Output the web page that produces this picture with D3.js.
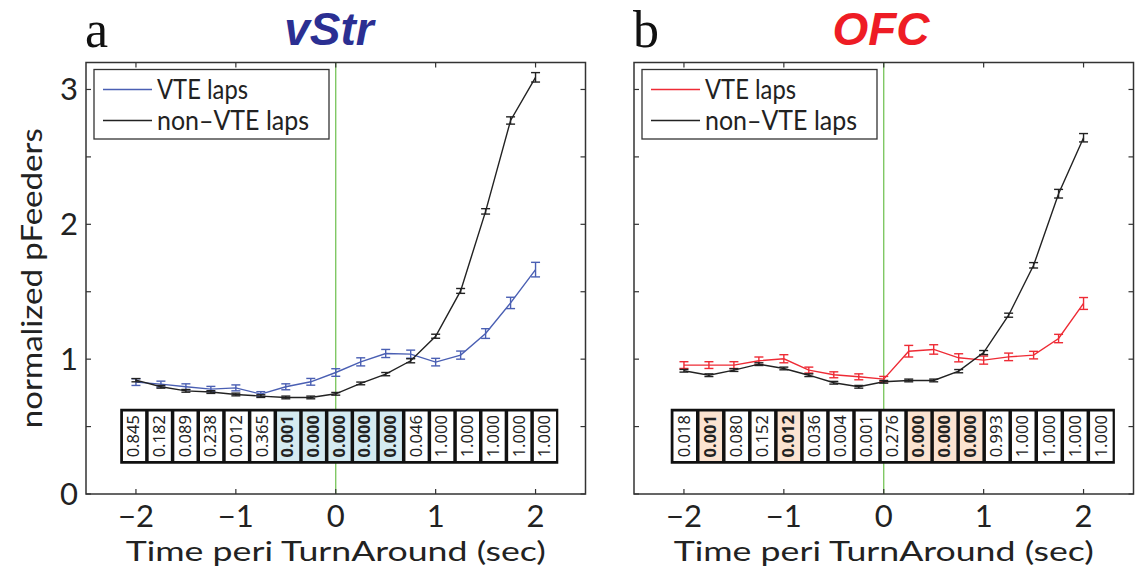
<!DOCTYPE html>
<html>
<head>
<meta charset="utf-8">
<script src="https://cdn.jsdelivr.net/npm/d3@7"></script>
<style>
  body { margin: 0; background: #fff; }
  svg text { font-family: Lato, "Noto Sans", sans-serif; }
</style>
</head>
<body>
<svg id="chart" width="1138" height="569"></svg>
<script>
// time points (sec, peri TurnAround)
const timePts = [-2, -1.75, -1.5, -1.25, -1, -0.75, -0.5, -0.25, 0, 0.25, 0.5, 0.75, 1, 1.25, 1.5, 1.75, 2];

// vStr panel
const vstrVTE     = [0.830, 0.815, 0.795, 0.778, 0.787, 0.741, 0.795, 0.832, 0.901, 0.980, 1.042, 1.037, 0.978, 1.030, 1.190, 1.417, 1.664];
const vstrVTEerr  = [0.025, 0.022, 0.022, 0.020, 0.022, 0.018, 0.022, 0.025, 0.028, 0.030, 0.030, 0.030, 0.028, 0.030, 0.036, 0.042, 0.054];
const vstrNon     = [0.844, 0.795, 0.765, 0.756, 0.738, 0.726, 0.716, 0.716, 0.743, 0.820, 0.889, 0.988, 1.170, 1.506, 2.096, 2.770, 3.090];
const vstrNonErr  = [0.012, 0.010, 0.010, 0.010, 0.010, 0.010, 0.010, 0.010, 0.010, 0.010, 0.012, 0.015, 0.015, 0.018, 0.020, 0.027, 0.035];
const vstrP       = ["0.845", "0.182", "0.089", "0.238", "0.012", "0.365", "0.001", "0.000", "0.000", "0.000", "0.000", "0.046", "1.000", "1.000", "1.000", "1.000", "1.000"];
const vstrSig     = [6, 7, 8, 9, 10];

// OFC panel
const ofcVTE      = [0.956, 0.956, 0.956, 0.988, 1.003, 0.919, 0.884, 0.869, 0.852, 1.059, 1.072, 1.010, 0.993, 1.017, 1.030, 1.153, 1.413];
const ofcVTEerr   = [0.025, 0.025, 0.025, 0.028, 0.030, 0.022, 0.022, 0.022, 0.020, 0.043, 0.035, 0.030, 0.030, 0.028, 0.028, 0.031, 0.044];
const ofcNon      = [0.914, 0.881, 0.919, 0.963, 0.931, 0.881, 0.825, 0.795, 0.832, 0.842, 0.842, 0.911, 1.049, 1.326, 1.696, 2.227, 2.642];
const ofcNonErr   = [0.010, 0.010, 0.010, 0.010, 0.010, 0.010, 0.010, 0.010, 0.010, 0.010, 0.010, 0.012, 0.015, 0.015, 0.020, 0.032, 0.031];
const ofcP        = ["0.018", "0.001", "0.080", "0.152", "0.012", "0.036", "0.004", "0.001", "0.276", "0.000", "0.000", "0.000", "0.993", "1.000", "1.000", "1.000", "1.000"];
const ofcSig      = [1, 4, 9, 10, 11];

const xTicks = [-2, -1, 0, 1, 2];
const yTicks = [0, 0.5, 1, 1.5, 2, 2.5, 3];
const yLabels = [0, 1, 2, 3];

const svg = d3.select("#chart");
const plotTop = 62.5, plotBottom = 494;

function drawPanel(cfg) {
  const x = d3.scaleLinear().domain([-2.5, 2.5]).range([cfg.left, cfg.left + 499.5]);
  const y = d3.scaleLinear().domain([0, 3.2]).range([plotBottom, plotTop]);
  const g = svg.append("g");

  // panel letter + title
  g.append("text")
    .attr("x", cfg.left - 1).attr("y", 47)
    .style("font-family", "'Liberation Serif', 'DejaVu Serif', serif")
    .style("font-size", "52px").attr("fill", "#111")
    .text(cfg.letter);
  g.append("text")
    .attr("x", cfg.titleX).attr("y", 45)
    .attr("text-anchor", "middle")
    .style("font-family", "'Liberation Sans', Arial, sans-serif")
    .style("font-size", "46px").style("font-weight", "bold").style("font-style", "italic")
    .attr("fill", cfg.titleColor)
    .text(cfg.title);

  // green line at turnaround
  g.append("line")
    .attr("x1", x(0)).attr("x2", x(0)).attr("y1", plotTop).attr("y2", plotBottom)
    .attr("stroke", "#6cbf4a").attr("stroke-width", 1.2);

  // inward ticks
  const tl = 5;
  xTicks.forEach(t => {
    g.append("line").attr("x1", x(t)).attr("x2", x(t)).attr("y1", plotBottom).attr("y2", plotBottom - tl)
      .attr("stroke", "#333").attr("stroke-width", 1.2);
    g.append("line").attr("x1", x(t)).attr("x2", x(t)).attr("y1", plotTop).attr("y2", plotTop + tl)
      .attr("stroke", "#333").attr("stroke-width", 1.2);
    g.append("text").attr("x", x(t)).attr("y", 527)
      .attr("text-anchor", "middle").style("font-size", "31px").attr("fill", "#222")
      .text(d3.format("")(t));
  });
  yTicks.forEach(t => {
    g.append("line").attr("x1", cfg.left).attr("x2", cfg.left + tl).attr("y1", y(t)).attr("y2", y(t))
      .attr("stroke", "#333").attr("stroke-width", 1.2);
    g.append("line").attr("x1", x(2.5)).attr("x2", x(2.5) - tl).attr("y1", y(t)).attr("y2", y(t))
      .attr("stroke", "#333").attr("stroke-width", 1.2);
  });
  if (cfg.showY) {
    yLabels.forEach(t => {
      g.append("text").attr("x", cfg.left - 8).attr("y", y(t) + 11)
        .attr("text-anchor", "end").style("font-size", "31px").attr("fill", "#222")
        .text(t);
    });
    g.append("text")
      .attr("transform", `translate(42,${(plotTop + plotBottom) / 2}) rotate(-90)`)
      .attr("text-anchor", "middle").style("font-size", "28px").attr("fill", "#222")
      .attr("textLength", 300).attr("lengthAdjust", "spacingAndGlyphs")
      .text("normalized pFeeders");
  }
  g.append("text")
    .attr("x", x(0)).attr("y", 561)
    .attr("text-anchor", "middle").style("font-size", "27px").attr("fill", "#222")
    .attr("textLength", 420).attr("lengthAdjust", "spacingAndGlyphs")
    .text("Time peri TurnAround (sec)");

  // p-value table
  const band = d3.scaleBand().domain(d3.range(cfg.pvals.length))
    .range([x(cfg.tableX[0]), x(cfg.tableX[1])]);
  const tTop = 409.5, tBot = 463;
  g.append("rect")
    .attr("x", band.range()[0]).attr("y", tTop)
    .attr("width", band.range()[1] - band.range()[0]).attr("height", tBot - tTop)
    .attr("fill", "#111").attr("stroke", "#111").attr("stroke-width", 1.5);
  const cells = g.selectAll(".cell").data(cfg.pvals).enter().append("g");
  cells.append("rect")
    .attr("x", (d, i) => band(i) + 2)
    .attr("y", tTop + 2)
    .attr("width", band.bandwidth() - 3.5)
    .attr("height", tBot - tTop - 4)
    .attr("fill", (d, i) => cfg.sig.includes(i) ? cfg.sigFill : "#fff");
  cells.append("text")
    .attr("transform", (d, i) => `translate(${band(i) + band.bandwidth() / 2 + 5.5},${(tTop + tBot) / 2}) rotate(-90)`)
    .attr("text-anchor", "middle")
    .style("font-family", "'Noto Sans', sans-serif")
    .style("font-size", "16.5px")
    .style("font-weight", (d, i) => cfg.sig.includes(i) ? "bold" : "normal")
    .attr("fill", "#222")
    .text(d => d);

  // series with error bars
  const line = d3.line().x((d, i) => x(timePts[i])).y(d => y(d));
  cfg.series.forEach(s => {
    g.append("path").datum(s.values)
      .attr("d", line).attr("fill", "none")
      .attr("stroke", s.color).attr("stroke-width", 1.4);
    const eb = g.append("g").attr("stroke", s.color).attr("stroke-width", 1.4);
    s.values.forEach((v, i) => {
      const cx = x(timePts[i]);
      const y1 = y(v - s.err[i]), y2 = y(v + s.err[i]);
      eb.append("line").attr("x1", cx).attr("x2", cx).attr("y1", y1).attr("y2", y2);
      eb.append("line").attr("x1", cx - 4.5).attr("x2", cx + 4.5).attr("y1", y1).attr("y2", y1);
      eb.append("line").attr("x1", cx - 4.5).attr("x2", cx + 4.5).attr("y1", y2).attr("y2", y2);
    });
  });

  // legend
  const lx = cfg.left + 8, ly = 69.5;
  g.append("rect").attr("x", lx).attr("y", ly).attr("width", 235).attr("height", 69.5)
    .attr("fill", "#fff").attr("stroke", "#333").attr("stroke-width", 1.3);
  [{ name: "VTE laps", color: cfg.series[0].color, w: 91 },
   { name: "non\u2013VTE laps", color: "#222", w: 152 }].forEach((it, k) => {
    const yy = ly + 20 + k * 31;
    g.append("line").attr("x1", lx + 9).attr("x2", lx + 58).attr("y1", yy).attr("y2", yy)
      .attr("stroke", it.color).attr("stroke-width", 1.4);
    g.append("text").attr("x", lx + 63).attr("y", yy + 9.5)
      .style("font-size", "26px").attr("fill", "#222")
      .attr("textLength", it.w).attr("lengthAdjust", "spacingAndGlyphs")
      .text(it.name);
  });

  // axes box
  g.append("rect").attr("x", cfg.left).attr("y", plotTop)
    .attr("width", 499.5).attr("height", plotBottom - plotTop)
    .attr("fill", "none").attr("stroke", "#333").attr("stroke-width", 1.5);
}

drawPanel({
  left: 86, letter: "a", title: "vStr", titleX: 329, titleColor: "#2b2f92", showY: true,
  tableX: [-2.15, 2.22], pvals: vstrP, sig: vstrSig, sigFill: "#d4eaf1",
  series: [
    { values: vstrVTE, err: vstrVTEerr, color: "#4a5fb3" },
    { values: vstrNon, err: vstrNonErr, color: "#222" }
  ]
});
drawPanel({
  left: 634, letter: "b", title: "OFC", titleX: 881, titleColor: "#ee1c25", showY: false,
  tableX: [-2.125, 2.306], pvals: ofcP, sig: ofcSig, sigFill: "#fbe3d1",
  series: [
    { values: ofcVTE, err: ofcVTEerr, color: "#ee2b35" },
    { values: ofcNon, err: ofcNonErr, color: "#222" }
  ]
});
</script>
</body>
</html>
